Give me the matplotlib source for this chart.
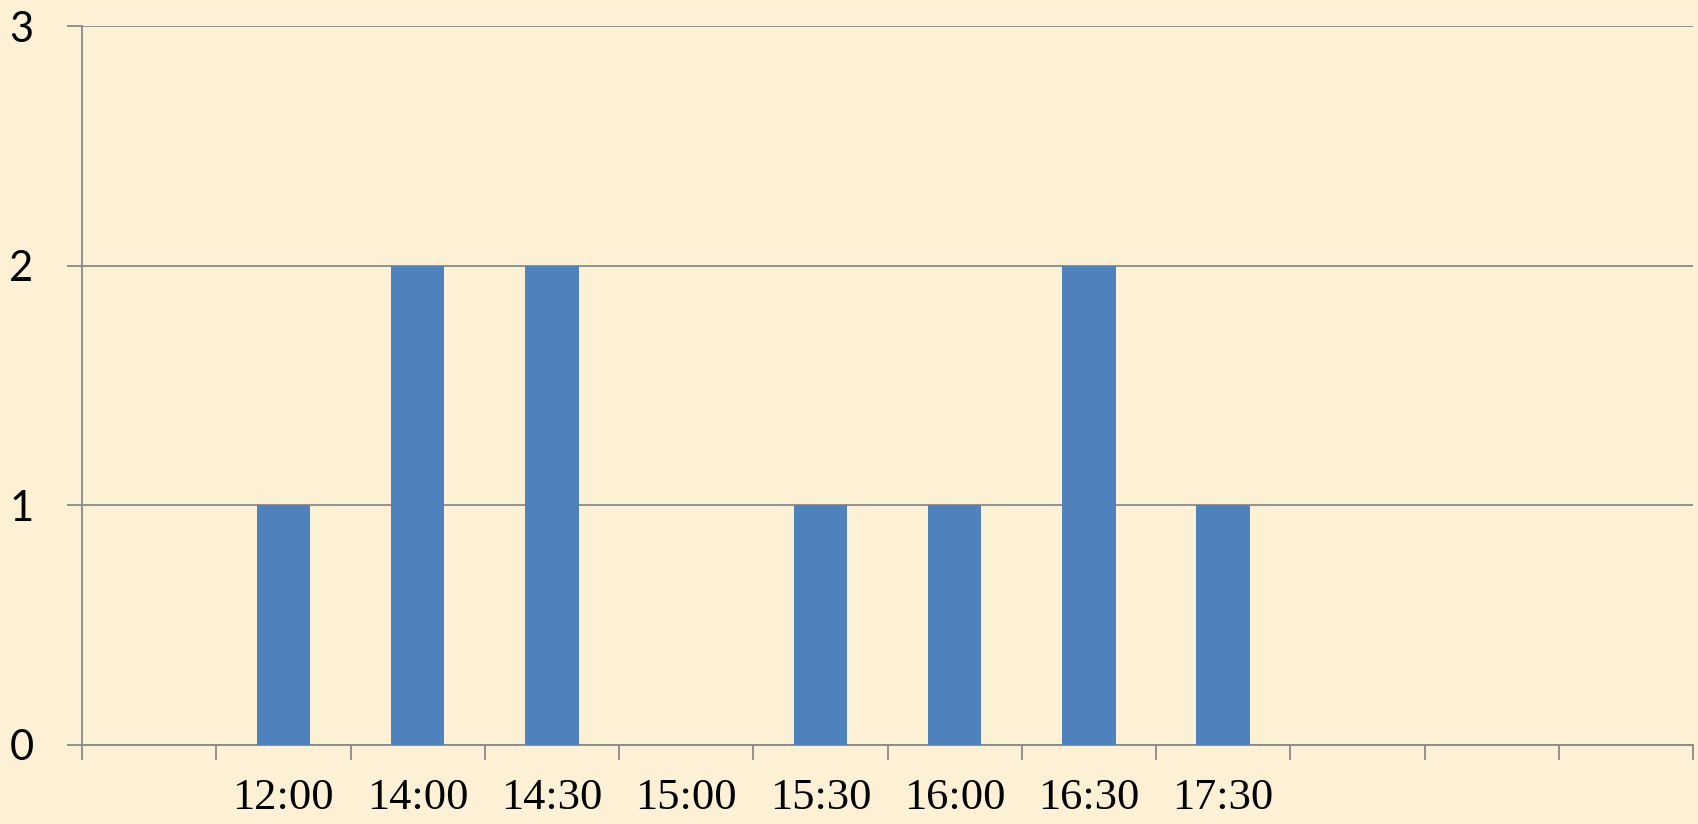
import matplotlib
matplotlib.use("Agg")
import matplotlib.pyplot as plt
import numpy as np

categories = ["", "12:00", "14:00", "14:30", "15:00", "15:30", "16:00", "16:30", "17:30", "", "", ""]
values = [0, 1, 2, 2, 0, 1, 1, 2, 1, 0, 0, 0]
y_ticks = [0, 1, 2, 3]

bg = "#FCF0D5"
grid_c = "#8A8A8A"
bar_c = "#4F81BD"

fig = plt.figure(figsize=(16.98, 8.24), dpi=100, facecolor=bg)
ax = fig.add_axes([82/1698, (824-745)/824, (1693-82)/1698, (745-26)/824])
ax.set_facecolor(bg)

x = np.arange(len(categories))
ax.bar(x, values, width=0.4, color=bar_c, zorder=3)

ax.set_xlim(-0.5, len(categories) - 0.5)
ax.set_ylim(0, 3)

# category boundary ticks
ax.set_xticks(np.arange(-0.5, len(categories), 1.0))
ax.set_xticklabels([])
ax.tick_params(axis="x", which="major", length=11, width=1.3, color=grid_c, direction="out")
ax.set_xticks(x, minor=True)
ax.set_xticklabels(categories, minor=True, family="Liberation Serif", fontsize=32)
ax.tick_params(axis="x", which="minor", length=0, pad=24)

ax.set_yticks(y_ticks)
ax.set_yticklabels([str(v) for v in y_ticks], family=["Lato", "DejaVu Sans"], fontsize=30)
ax.tick_params(axis="y", length=11, width=1.3, color=grid_c, pad=24)
ax.yaxis.grid(True, color=grid_c, linewidth=1.3, zorder=0)
ax.set_axisbelow(True)

for s in ["top", "right"]:
    ax.spines[s].set_visible(False)
for s in ["left", "bottom"]:
    ax.spines[s].set_color(grid_c)
    ax.spines[s].set_linewidth(1.3)

fig.savefig("out.png", dpi=100, facecolor=bg)
